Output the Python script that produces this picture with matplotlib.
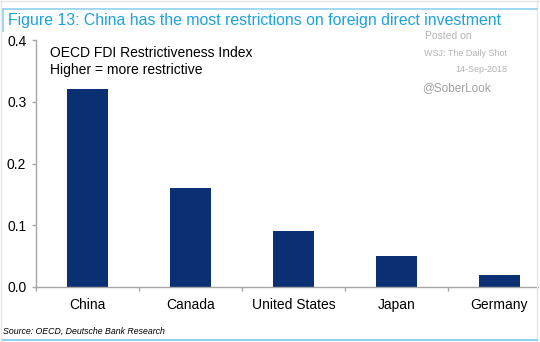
import matplotlib
matplotlib.use('Agg')
from matplotlib import pyplot as plt
from matplotlib.lines import Line2D

plt.rcParams['font.family'] = ['Liberation Sans', 'DejaVu Sans']

countries = ['China', 'Canada', 'United States', 'Japan', 'Germany']
fdi_index = [0.32, 0.16, 0.09, 0.05, 0.02]
y_ticks = [0.0, 0.1, 0.2, 0.3, 0.4]

W, H = 540, 342
fig = plt.figure(figsize=(W / 100, H / 100), dpi=100)

def fx(px):
    return px / W

def fy(py):
    return 1 - py / H

# plot area, slightly wider than the figure on the right so the last slot is clipped
ax = fig.add_axes([fx(36), fy(287), fx(538) - fx(36), fy(40) - fy(287)])
x = range(len(countries))
ax.bar(x, fdi_index, width=0.39, color='#0b2f73', zorder=2)

ax.set_xlim(-0.5, 4.374)
ax.set_ylim(0, 0.4)
ax.set_yticks(y_ticks)
ax.set_yticklabels(['%.1f' % v for v in y_ticks])
ax.set_xticks(x)
ax.set_xticklabels(countries)
ax.set_xticks([i - 0.5 for i in range(len(countries))], minor=True)

for s in ['top', 'right']:
    ax.spines[s].set_visible(False)
for s in ['left', 'bottom']:
    ax.spines[s].set_color('#a6a6a6')
    ax.spines[s].set_linewidth(1.0)

ax.tick_params(axis='y', length=3, width=1, color='#a6a6a6', labelsize=10, pad=4, labelcolor='black')
ax.tick_params(axis='x', which='major', length=0, labelsize=10, pad=8, labelcolor='black')
ax.tick_params(axis='x', which='minor', length=3, width=1, color='#a6a6a6')

# titles and notes
fig.text(fx(8), fy(21), 'Figure 13: China has the most restrictions on foreign direct investment',
         color='#1ca2dd', fontsize=11.4, va='center', ha='left')
fig.text(fx(50), fy(53), 'OECD FDI Restrictiveness Index', fontsize=10, va='center')
fig.text(fx(50), fy(70), 'Higher = more restrictive', fontsize=10, va='center')

grey = '#b4b4b4'
fig.text(fx(425), fy(36), 'Posted on', color=grey, fontsize=7.5, va='center')
fig.text(fx(424), fy(53), 'WSJ: The Daily Shot', color=grey, fontsize=6.5, va='center')
fig.text(fx(507), fy(70), '14-Sep-2018', color=grey, fontsize=6.5, va='center', ha='right')
fig.text(fx(422), fy(88), '@SoberLook', color='#a0a0a0', fontsize=8.5, va='center')

fig.text(fx(3), fy(331), 'Source: OECD, Deutsche Bank Research', fontsize=6.3,
         style='italic', va='center')

# border lines
def fline(x0, y0, x1, y1, color, lw):
    fig.add_artist(Line2D([fx(x0), fx(x1)], [fy(y0), fy(y1)], color=color, lw=lw))

fline(0, 1, 540, 1, '#e6e6e6', 1.0)
fline(0.5, 0, 0.5, 342, '#e6e6e6', 1.0)
fline(537, 0, 537, 342, '#e6e6e6', 1.0)
fline(3, 9, 537, 9, '#8fd2ee', 1.2)
fline(3, 9, 3, 31, '#8fd2ee', 1.2)
fline(3, 340, 537, 340, '#8fd2ee', 1.5)

fig.savefig('out.png', dpi=100)
